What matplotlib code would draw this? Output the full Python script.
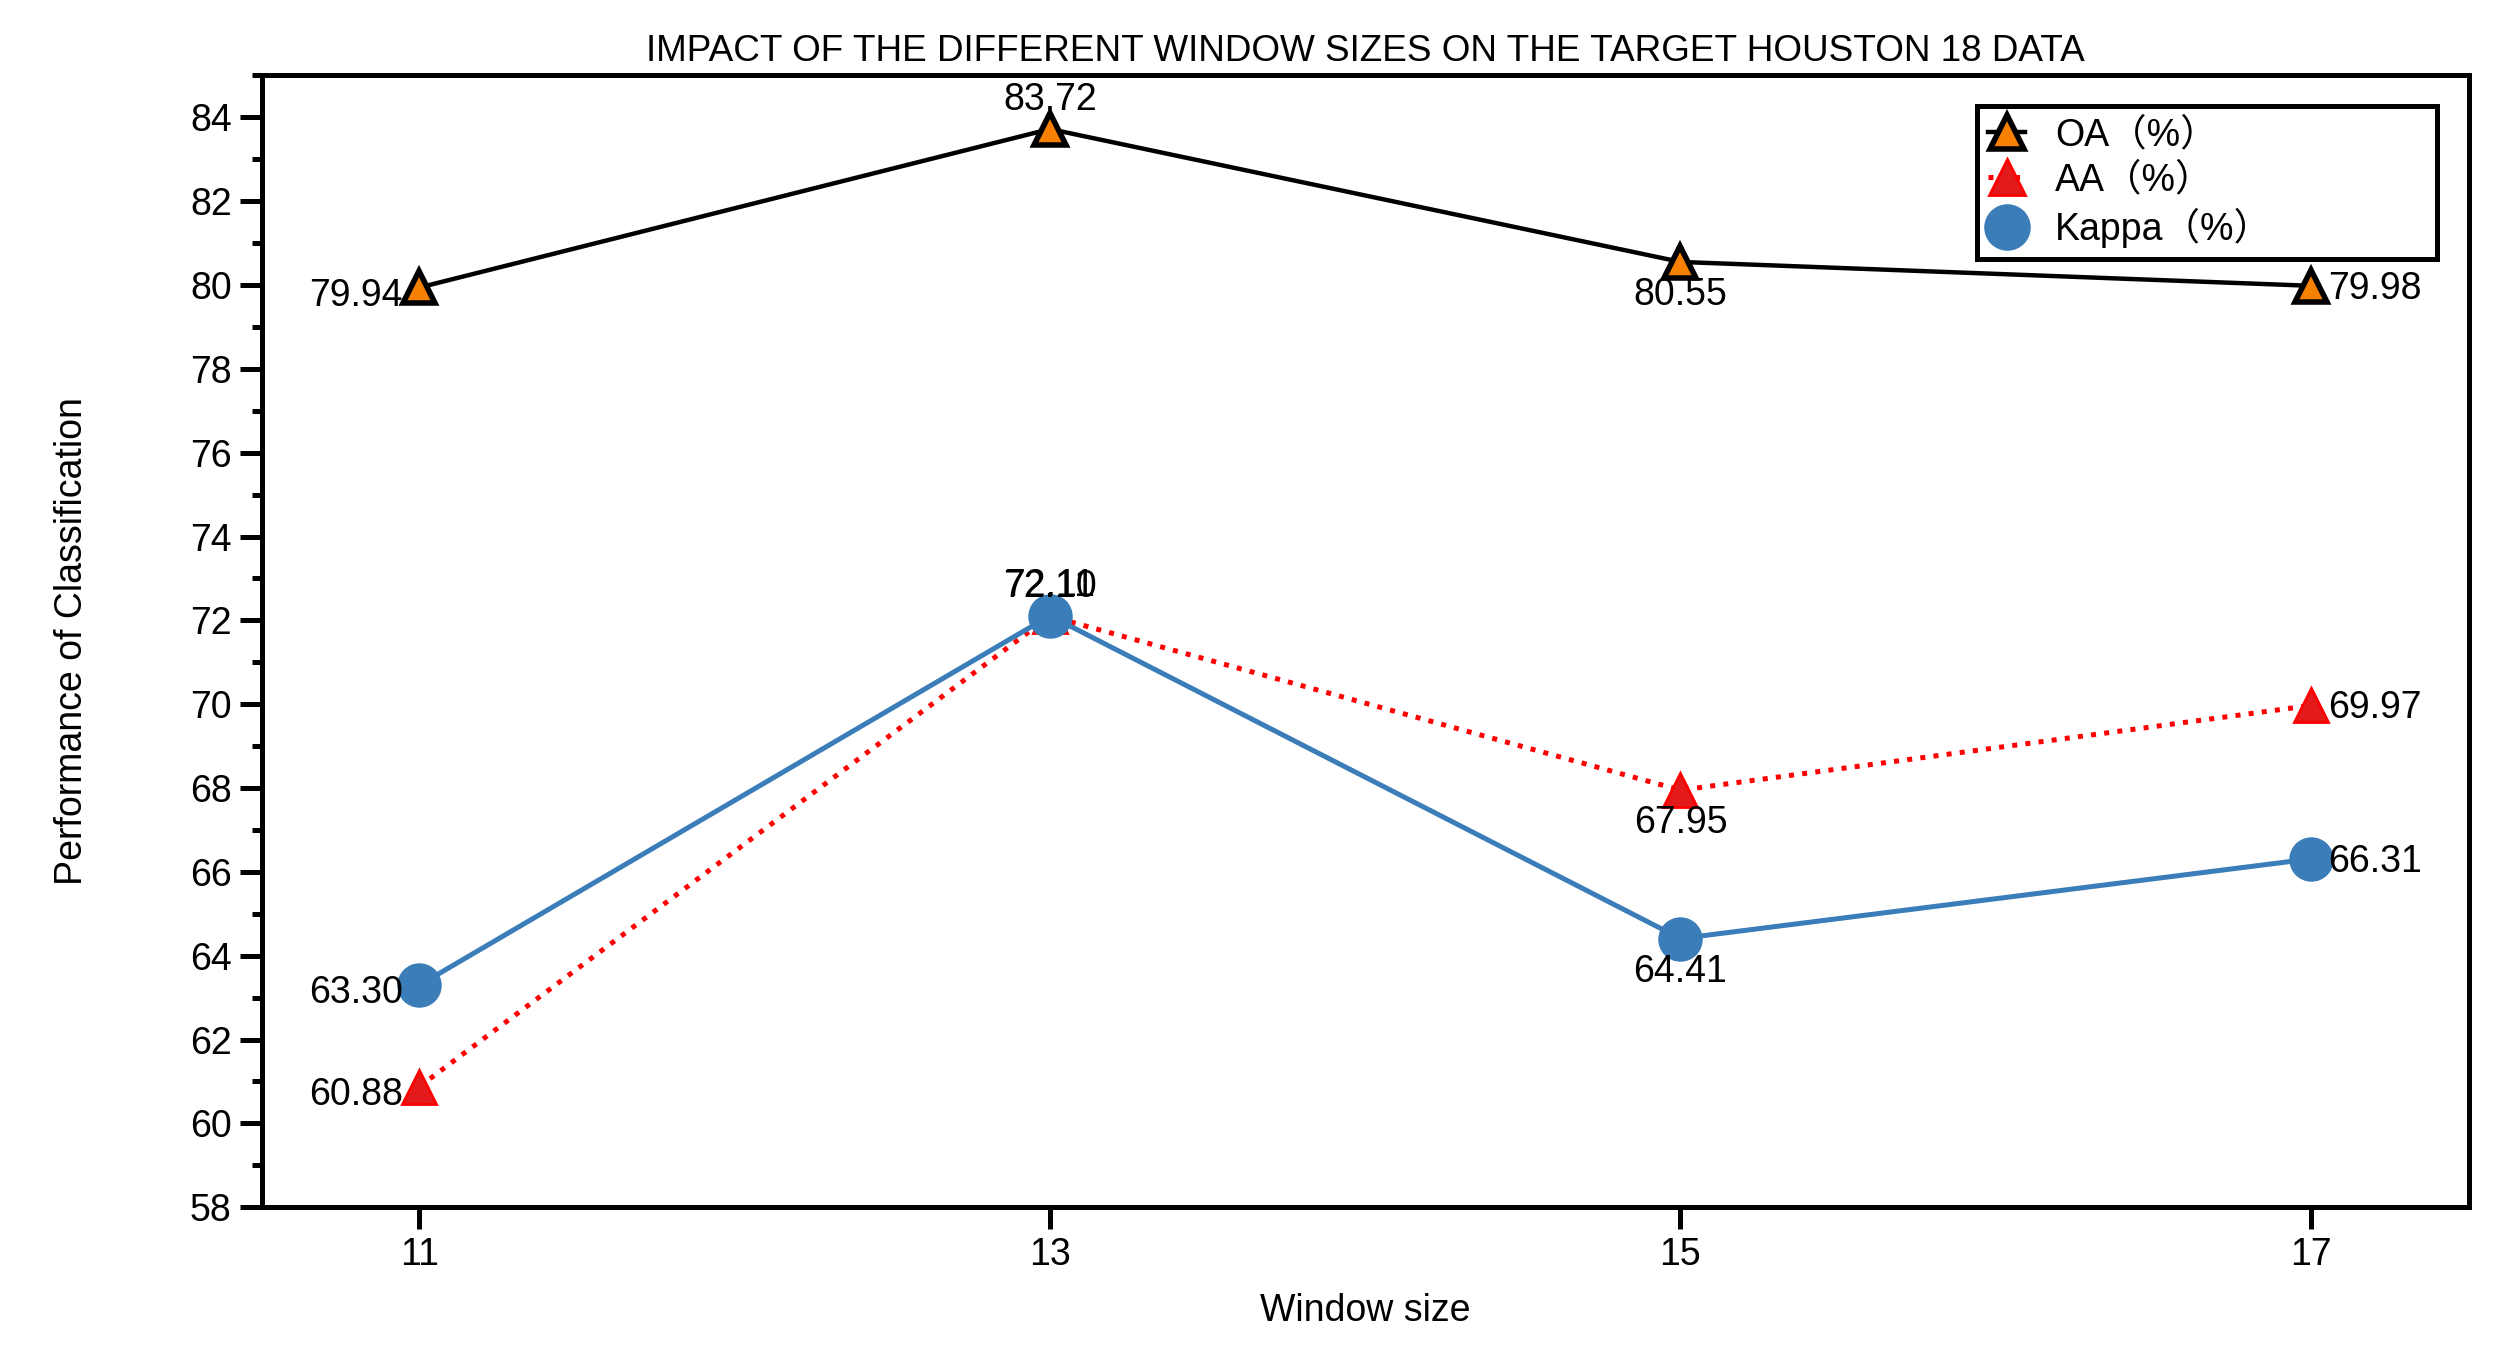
import matplotlib
matplotlib.use("Agg")
import matplotlib.pyplot as plt
from matplotlib.ticker import MultipleLocator

plt.rcParams['font.family'] = ['Liberation Sans', 'Noto Sans CJK SC', 'DejaVu Sans']

window_sizes = [11, 13, 15, 17]
oa = [79.94, 83.72, 80.55, 79.98]
aa = [60.88, 72.10, 67.95, 69.97]
kappa = [63.30, 72.11, 64.41, 66.31]
labels = ['OA（%）', 'AA（%）', 'Kappa（%）']

fs = 13.5

fig = plt.figure(figsize=(12.525, 6.79), dpi=200)
ax = fig.add_axes([0.1045, 0.111, 0.881, 0.8335])

ax.plot(window_sizes, oa, color='black', lw=1.6, marker='^', ms=11.5,
        mfc='#f68000', mec='black', mew=2.0, label=labels[0], zorder=3)
ax.plot(window_sizes, aa, color='red', lw=1.8, ls=':', marker='^', ms=12.5,
        mfc='#e31a1c', mec='red', mew=1.0, label=labels[1], zorder=3)
ax.plot(window_sizes, kappa, color='#3a7db9', lw=1.8, marker='o', ms=15,
        mfc='#3a7db9', mec='#3a7db9', label=labels[2], zorder=4)

# value labels: left, above, below, right
offsets = [((-6, -3), 'right', 'center'),
           ((0, 7), 'center', 'baseline'),
           ((0, -12), 'center', 'center'),
           ((6, -1), 'left', 'center')]
for series in (oa, aa, kappa):
    for i, (x, y) in enumerate(zip(window_sizes, series)):
        off, ha, va = offsets[i]
        ax.annotate(f"{y:.2f}", (x, y), xytext=off, textcoords='offset points',
                    ha=ha, va=va, fontsize=fs, zorder=5)

ax.set_xlim(10.5, 17.5)
ax.set_ylim(58, 85)
ax.set_xticks(window_sizes)
ax.yaxis.set_major_locator(MultipleLocator(2))
ax.yaxis.set_minor_locator(MultipleLocator(1))

for s in ax.spines.values():
    s.set_linewidth(1.8)
ax.tick_params(axis='both', which='major', direction='out', length=7.8, width=1.8,
               labelsize=fs, pad=3)
ax.tick_params(axis='y', which='minor', direction='out', length=3.6, width=1.8)
ax.tick_params(top=False, right=False)

ax.set_xlabel('Window size', fontsize=fs, labelpad=7)
ax.set_ylabel('Performance of Classification', fontsize=fs, labelpad=36)
ax.set_title('IMPACT OF THE DIFFERENT WINDOW SIZES ON THE TARGET HOUSTON 18 DATA',
             fontsize=13.3, pad=5)

leg = ax.legend(loc='upper left', bbox_to_anchor=(0.777, 0.845, 0.2085, 0.128),
                mode='expand', fontsize=fs, frameon=True, fancybox=False,
                handlelength=1.0, handletextpad=0.8, borderpad=0.3,
                labelspacing=0.25, borderaxespad=0, markerscale=1.05)
leg.get_frame().set_edgecolor('black')
leg.get_frame().set_linewidth(1.8)
leg.get_frame().set_alpha(1)

fig.savefig('out.png', dpi=200)
